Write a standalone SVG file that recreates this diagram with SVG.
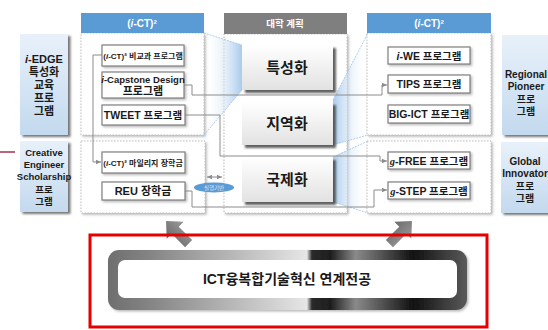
<svg xmlns="http://www.w3.org/2000/svg" width="548" height="330" viewBox="0 0 548 330">
<style>
.t{font-family:"Liberation Sans","Noto Sans CJK KR",sans-serif;font-weight:bold;fill:#1a1a1a;text-anchor:middle}
.side{fill:url(#sideG);filter:url(#sh2)}
.panel{fill:#fff;stroke:#bfbfbf;stroke-width:1;stroke-dasharray:1.5 1.5;filter:url(#sh1)}
.sb{fill:#fff;stroke:#7f7f7f;stroke-width:1.2;filter:url(#sh1)}
.btn{fill:url(#btnG);filter:url(#sh3)}
.hdr{fill:#5b9bd5}
.ht{font-family:"Liberation Sans","Noto Sans CJK KR",sans-serif;font-weight:bold;fill:#fff;text-anchor:middle}
.con{fill:none;stroke:#8c8c8c;stroke-width:1}
.fl{stroke:#9dc3e6;stroke-width:0.8;stroke-dasharray:2 1}
</style>
<defs>
<linearGradient id="sideG" x1="0" y1="0" x2="0" y2="1"><stop offset="0" stop-color="#e8f1fa"/><stop offset="1" stop-color="#c3d9ee"/></linearGradient>
<linearGradient id="btnG" x1="0" y1="0" x2="0" y2="1"><stop offset="0" stop-color="#ffffff"/><stop offset="1" stop-color="#e2e2e2"/></linearGradient>
<linearGradient id="fanL" x1="0" y1="0" x2="1" y2="0"><stop offset="0" stop-color="#ffffff" stop-opacity="0"/><stop offset="1" stop-color="#a9cbec"/></linearGradient>
<linearGradient id="fanR" x1="0" y1="0" x2="1" y2="0"><stop offset="0" stop-color="#a9cbec"/><stop offset="1" stop-color="#ffffff" stop-opacity="0"/></linearGradient>
<linearGradient id="barG" x1="108" y1="0" x2="467" y2="0" gradientUnits="userSpaceOnUse">
<stop offset="0" stop-color="#6e6e6e"/><stop offset="0.12" stop-color="#858585"/><stop offset="0.554" stop-color="#e6e6e6"/><stop offset="0.568" stop-color="#2a2a2a"/><stop offset="0.62" stop-color="#1e1e1e"/><stop offset="0.69" stop-color="#8a8a8a"/><stop offset="0.85" stop-color="#111"/><stop offset="1" stop-color="#5a5a5a"/></linearGradient>
<linearGradient id="arrG" x1="0" y1="0" x2="1" y2="0"><stop offset="0" stop-color="#6a6a6a"/><stop offset="1" stop-color="#9a9a9a"/></linearGradient>
<filter id="sh1" x="-10%" y="-10%" width="130%" height="130%"><feDropShadow dx="1.5" dy="1.5" stdDeviation="0.8" flood-color="#888" flood-opacity="0.6"/></filter>
<filter id="sh2" x="-10%" y="-10%" width="130%" height="130%"><feDropShadow dx="2.5" dy="2" stdDeviation="0.8" flood-color="#555" flood-opacity="0.8"/></filter>
<filter id="sh3" x="-10%" y="-10%" width="130%" height="130%"><feDropShadow dx="3" dy="3" stdDeviation="0.8" flood-color="#444" flood-opacity="0.85"/></filter>
<marker id="ar" markerWidth="6" markerHeight="6" refX="5" refY="3" orient="auto" markerUnits="userSpaceOnUse"><path d="M0,0.8 L5,3 L0,5.2z" fill="#8c8c8c"/></marker>
<marker id="dar" markerWidth="6" markerHeight="6" refX="5" refY="3" orient="auto-start-reverse" markerUnits="userSpaceOnUse"><path d="M0,0.8 L5,3 L0,5.2z" fill="#8c8c8c"/></marker>
</defs>
<rect width="548" height="330" fill="#fff"/>

<line x1="0" y1="152" x2="15" y2="152" stroke="#a3324c" stroke-width="1.5"/>

<g id="side-iedge">
<rect class="side" x="20" y="34" width="48" height="101"/>
<text class="t" font-size="11"><tspan x="44" y="63"><tspan font-style="italic">i</tspan>-EDGE</tspan><tspan x="44" y="76">특성화</tspan><tspan x="44" y="89">교육</tspan><tspan x="44" y="102">프로</tspan><tspan x="44" y="115">그램</tspan></text>
</g>
<g id="side-creative">
<rect class="side" x="20" y="141" width="48" height="71"/>
<text class="t" font-size="9.5"><tspan x="44" y="156">Creative</tspan><tspan x="44" y="168">Engineer</tspan><tspan x="44" y="180">Scholarship</tspan><tspan x="44" y="193">프로</tspan><tspan x="44" y="205">그램</tspan></text>
</g>
<g id="side-regional">
<rect class="side" x="502" y="35" width="48" height="100"/>
<text class="t" font-size="10"><tspan x="526" y="78">Regional</tspan><tspan x="526" y="90">Pioneer</tspan><tspan x="526" y="103">프로</tspan><tspan x="526" y="115">그램</tspan></text>
</g>
<g id="side-global">
<rect class="side" x="501" y="142" width="49" height="71"/>
<text class="t" font-size="10"><tspan x="525" y="165">Global</tspan><tspan x="525" y="177">Innovator</tspan><tspan x="525" y="190">프로</tspan><tspan x="525" y="202">그램</tspan></text>
</g>

<g id="panel-left">
<rect class="panel" x="81" y="33" width="123" height="102"/>
<rect class="panel" x="81" y="141" width="124" height="72"/>
<rect class="hdr" x="81" y="13" width="123" height="20"/>
<text class="ht" x="142" y="27" font-size="10">(<tspan font-style="italic">i</tspan>-CT)²</text>
</g>
<g id="panel-mid">
<rect class="panel" x="224" y="34" width="123" height="179"/>
<rect x="224" y="13" width="123" height="21" fill="#7f7f7f"/>
<text class="ht" x="285" y="27" font-size="9.5" fill="#eee">대학 계획</text>
</g>
<g id="panel-right">
<rect class="panel" x="367" y="33" width="124" height="102"/>
<rect class="panel" x="367" y="141" width="124" height="72"/>
<rect class="hdr" x="367" y="13" width="124" height="20"/>
<text class="ht" x="429" y="27" font-size="10">(<tspan font-style="italic">i</tspan>-CT)²</text>
</g>

<g id="funnels">
<polygon points="204,33 242,45 242,90 204,135" fill="url(#fanL)"/>
<line class="fl" x1="204" y1="33" x2="242" y2="45"/><line class="fl" x1="204" y1="135" x2="242" y2="90"/>
<polygon points="333,100 368,33 368,135 333,145" fill="url(#fanR)"/>
<line class="fl" x1="333" y1="100" x2="368" y2="33"/><line class="fl" x1="333" y1="145" x2="368" y2="135"/>
<polygon points="333,157 368,141 368,213 333,202" fill="url(#fanR)"/>
<line class="fl" x1="333" y1="157" x2="368" y2="141"/><line class="fl" x1="333" y1="202" x2="368" y2="213"/>
</g>

<g id="connectors">
<polyline class="con" points="102,55 93,55 93,162 101,162" marker-end="url(#ar)"/>
<polyline class="con" points="184,85 192,85 192,95 382,95 382,85 387,85" marker-end="url(#ar)"/>
<polyline class="con" points="185,115 220,115 220,156 380,156 380,161 387,161" marker-end="url(#ar)"/>
<polyline class="con" points="185,191 192,191 192,207 374,207 374,190 387,190" marker-end="url(#ar)"/>
<line class="con" x1="207" y1="177" x2="222" y2="177" marker-start="url(#dar)" marker-end="url(#dar)"/>
</g>

<g id="node-b1"><rect class="sb" x="102" y="45" width="82" height="21"/>
<text class="t" x="143" y="59" font-size="8">(<tspan font-style="italic">i</tspan>-CT)² 비교과 프로그램</text></g>
<g id="node-b2"><rect class="sb" x="102" y="72" width="82" height="26"/>
<text class="t" font-size="9.5"><tspan x="143" y="83"><tspan font-style="italic">i</tspan>-Capstone Design</tspan><tspan x="143" y="95" font-size="11">프로그램</tspan></text></g>
<g id="node-b3"><rect class="sb" x="102" y="105" width="83" height="20"/>
<text class="t" x="143" y="119" font-size="10.5">TWEET 프로그램</text></g>
<g id="node-b4"><rect class="sb" x="102" y="152" width="83" height="21"/>
<text class="t" x="143" y="166" font-size="8">(<tspan font-style="italic">i</tspan>-CT)² 마일리지 장학금</text></g>
<g id="node-b5"><rect class="sb" x="102" y="182" width="83" height="18"/>
<text class="t" x="143" y="195" font-size="11">REU 장학금</text></g>

<g id="node-iwe"><rect class="sb" x="388" y="47" width="82" height="17"/>
<text class="t" x="429" y="60" font-size="10.5"><tspan font-style="italic">i</tspan>-WE 프로그램</text></g>
<g id="node-tips"><rect class="sb" x="388" y="75" width="82" height="18"/>
<text class="t" x="429" y="88" font-size="10.5">TIPS 프로그램</text></g>
<g id="node-bigict"><rect class="sb" x="388" y="105" width="82" height="18"/>
<text class="t" x="429" y="118" font-size="10.5">BIG-ICT 프로그램</text></g>
<g id="node-gfree"><rect class="sb" x="388" y="152" width="82" height="17"/>
<text class="t" x="429" y="165" font-size="10.5"><tspan font-style="italic" font-family="Liberation Serif">g</tspan>-FREE 프로그램</text></g>
<g id="node-gstep"><rect class="sb" x="388" y="182" width="82" height="17"/>
<text class="t" x="429" y="195" font-size="10.5"><tspan font-style="italic" font-family="Liberation Serif">g</tspan>-STEP 프로그램</text></g>

<g id="node-special"><rect class="btn" x="242" y="45" width="91" height="45"/>
<text class="t" x="287" y="73" font-size="15">특성화</text></g>
<g id="node-region"><rect class="btn" x="242" y="102" width="91" height="43"/>
<text class="t" x="287" y="129" font-size="15">지역화</text></g>
<g id="node-global"><rect class="btn" x="242" y="157" width="91" height="45"/>
<text class="t" x="287" y="185" font-size="15">국제화</text></g>

<g id="node-exec">
<ellipse cx="214" cy="187.5" rx="20" ry="5" fill="#5b9bd5"/>
<text x="214" y="190" font-size="5.5" text-anchor="middle" fill="#dbe8f5" font-family="'Noto Sans CJK KR',sans-serif">실행기반</text>
</g>

<g id="big-arrows">
<path d="M0,0 L12,13 L5,13 L5,32 L-5,32 L-5,13 L-12,13Z" fill="url(#arrG)" transform="translate(166,221) rotate(-45)"/>
<path d="M0,0 L12,13 L5,13 L5,32 L-5,32 L-5,13 L-12,13Z" fill="url(#arrG)" transform="translate(412,221) rotate(45)"/>
</g>

<g id="node-major">
<rect x="108" y="250" width="359" height="60" rx="11" fill="url(#barG)" filter="url(#sh1)"/>
<rect x="118" y="260" width="339" height="38" rx="7" fill="#fff"/>
<text class="t" x="287" y="284" font-size="14" fill="#222">ICT융복합기술혁신 연계전공</text>
</g>
<rect x="90" y="235" width="397" height="92" fill="none" stroke="#e60000" stroke-width="3"/>
</svg>
